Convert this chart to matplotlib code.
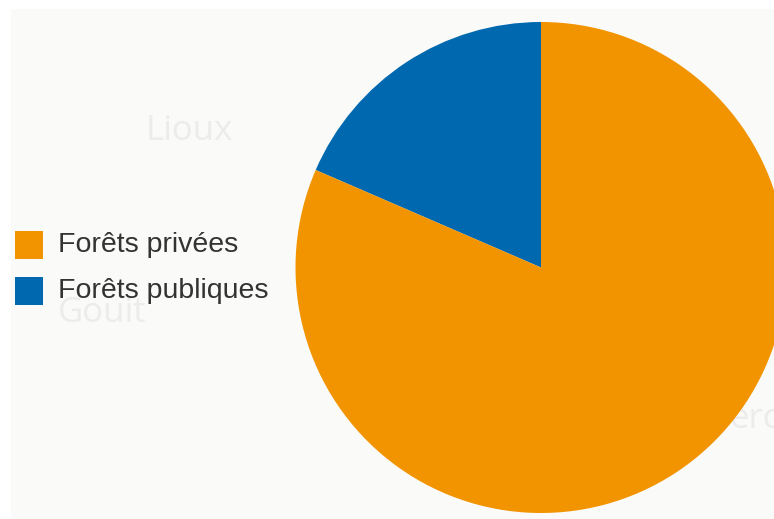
import matplotlib
matplotlib.use("Agg")
import matplotlib.pyplot as plt
from matplotlib.patches import Rectangle

# Forest ownership shares (%)
categories = ["Forêts privées", "Forêts publiques"]
shares = [81.5, 18.5]
colors = ["#f29400", "#0068ae"]

# Place names of the background map
place_names = ["Lioux", "Gouit", "erc"]

W, H = 774, 519
fig = plt.figure(figsize=(W / 100, H / 100), dpi=100)
fig.patch.set_facecolor("white")
ax = fig.add_axes([0, 0, 1, 1])
ax.set_axis_off()

# light map panel behind the chart
ax.add_patch(Rectangle((11, 0), W - 11, H - 9, facecolor="#fafaf8",
                       edgecolor="none", zorder=0))

# faint map labels (pixel positions, y measured from top)
label_pos = [(146, 140), (58, 322), (729, 428)]
for name, (x, y) in zip(place_names, label_pos):
    ax.text(x, H - y, name, fontsize=25, family="Open Sans",
            color="#ececec", ha="left", va="baseline", zorder=1)

# pie: public slice starts at 12 o'clock and runs counter-clockwise
wedges, _ = ax.pie(shares[::-1], colors=colors[::-1], startangle=90,
                   counterclock=True, center=(541, H - 267.5), radius=245.5,
                   wedgeprops=dict(linewidth=0, zorder=2))
for w in wedges:
    w.set_zorder(2)

ax.set_xlim(0, W)
ax.set_ylim(0, H)
ax.set_aspect("auto")

# legend
legend_rows = [244.5, 290.5]
for name, col, yc in zip(categories, colors, legend_rows):
    ax.add_patch(Rectangle((15, H - yc - 14), 28, 28, facecolor=col,
                           edgecolor="none", zorder=3))
    ax.text(58, H - yc, name, fontsize=20.5, family="Liberation Sans",
            color="#333333", ha="left", va="center", zorder=3)

fig.savefig("out.png", dpi=100, facecolor="white")
